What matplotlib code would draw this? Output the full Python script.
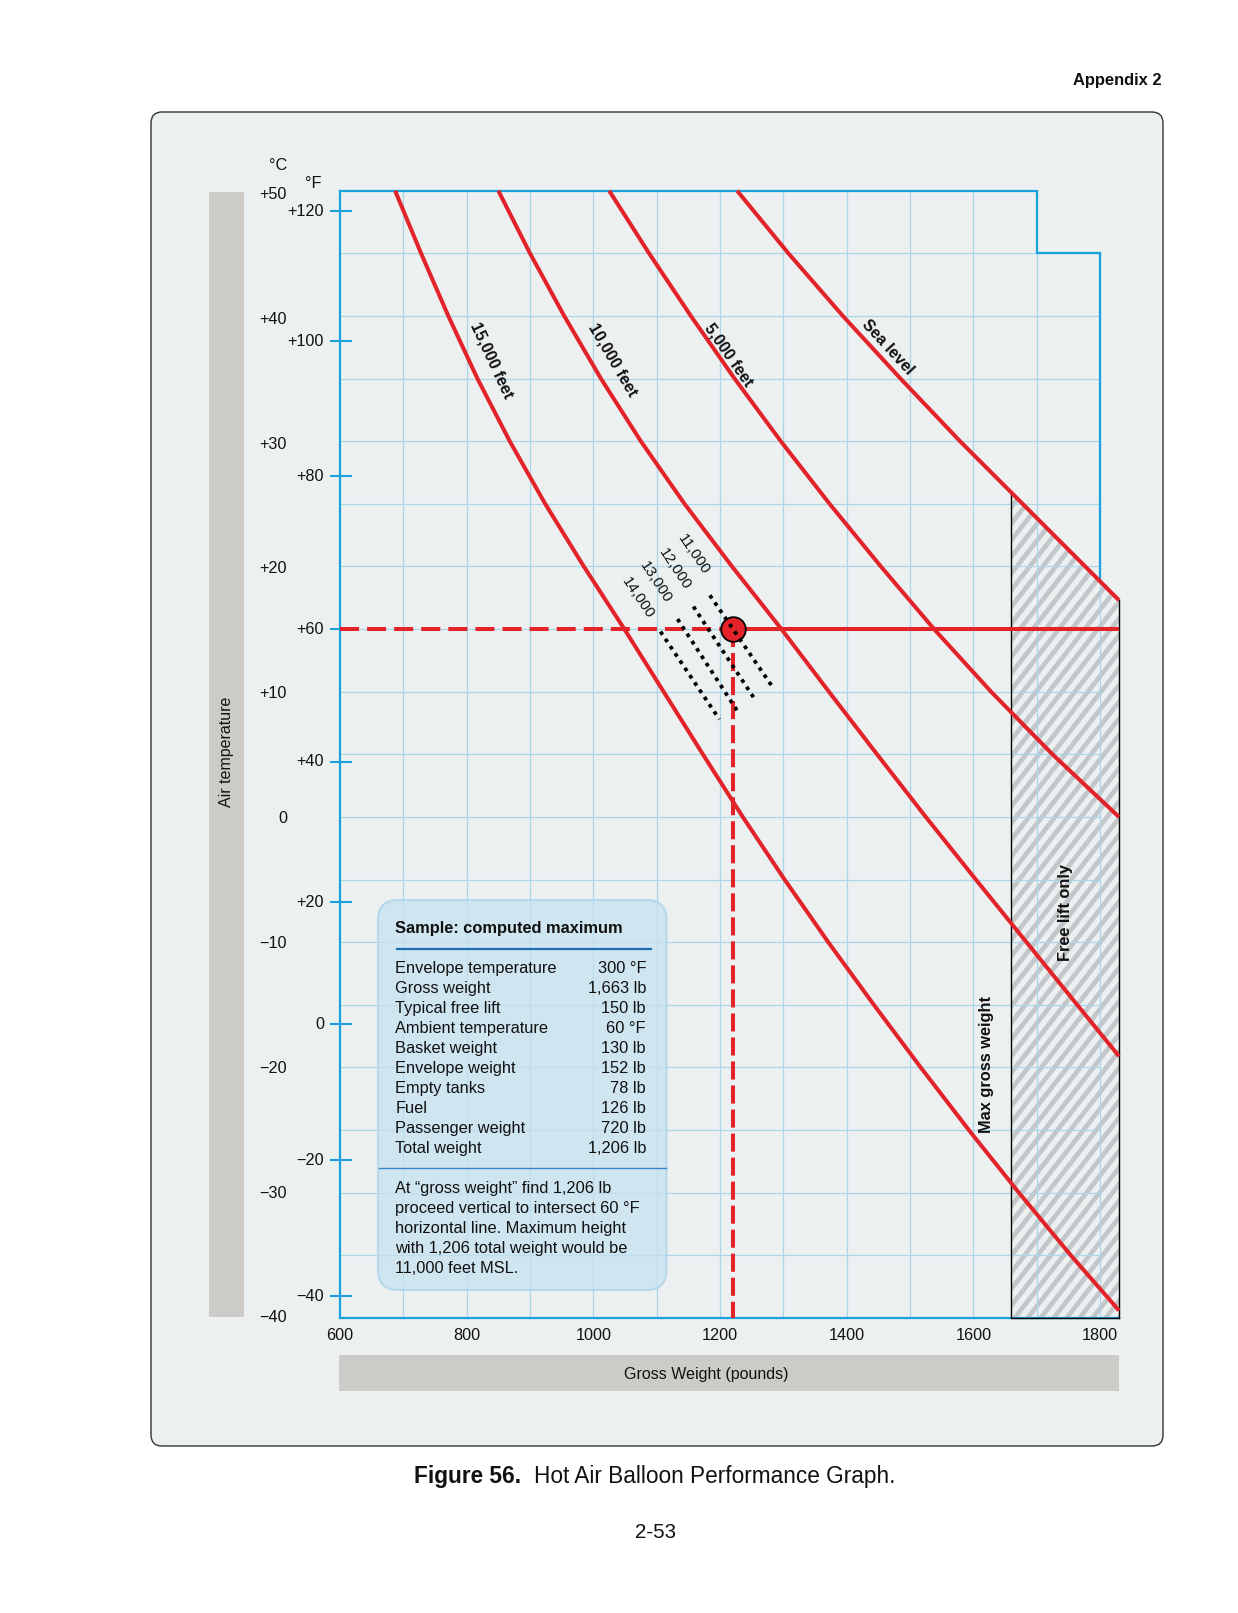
import numpy as np
import matplotlib
matplotlib.use('Agg')
import matplotlib.pyplot as plt
import matplotlib.transforms as mtransforms
from matplotlib.patches import FancyBboxPatch, Polygon
from matplotlib.collections import LineCollection
from matplotlib.lines import Line2D

plt.rcParams['font.family'] = ['Liberation Sans', 'DejaVu Sans']
plt.rcParams['lines.scale_dashes'] = False

# ------------------------------------------------------------------ data
weight_ticks = [600, 800, 1000, 1200, 1400, 1600, 1800]
celsius_ticks = [50, 40, 30, 20, 10, 0, -10, -20, -30, -40]
celsius_labels = ['+50', '+40', '+30', '+20', '+10', '0',
                  '\u221210', '\u221220', '\u221230', '\u221240']
# Fahrenheit scale as printed on the chart (value -> position on the °C axis)
fahrenheit_labels = ['+120', '+100', '+80', '+60', '+40', '+20', '0',
                     '\u221220', '\u221240']
fahrenheit_pos_c = [48.36, 38.0, 27.22, 15.0, 4.39, -6.79, -16.53, -27.41, -38.26]

# altitude curves: gross weight (lb) vs air temperature (°C)
alt15000_w = [687, 728, 771, 817, 868, 924, 985, 1049, 1111, 1173, 1236, 1302,
              1371, 1443, 1517, 1593, 1672, 1754, 1830]
alt15000_t = [50, 45, 40, 35, 30, 25, 20, 15, 10, 5, 0, -5,
              -10, -15, -20, -25, -30, -35, -39.4]
alt10000_w = [850, 900, 954, 1012, 1075, 1144, 1219, 1297, 1372, 1448, 1525,
              1604, 1684, 1764, 1830]
alt10000_t = [50, 45, 40, 35, 30, 25, 20, 15, 10, 5, 0,
              -5, -10, -15, -19.1]
alt5000_w = [1025, 1088, 1154, 1223, 1296, 1373, 1454, 1538, 1628, 1725, 1830]
alt5000_t = [50, 45, 40, 35, 30, 25, 20, 15, 10, 5, 0]
sea_w = [1227, 1308, 1394, 1485, 1579, 1660, 1830]
sea_t = [50, 45, 40, 35, 30, 25.9, 17.3]

curve_names = ['15,000 feet', '10,000 feet', '5,000 feet', 'Sea level']

# sample computation point
sample_weight = 1221
sample_temp = 15.0   # 60 °F

# dotted intermediate altitude lines
dotted_names = ['11,000', '12,000', '13,000', '14,000']
dotted_w0 = [1184, 1158, 1133, 1106]
dotted_t0 = [17.7, 16.8, 15.8, 14.8]
dotted_w1 = [1284, 1255, 1227, 1199]
dotted_t1 = [10.3, 9.4, 8.5, 7.8]

max_gross_weight = 1660
chart_right = 1830

box_title = 'Sample: computed maximum'
box_items = ['Envelope temperature', 'Gross weight', 'Typical free lift',
             'Ambient temperature', 'Basket weight', 'Envelope weight',
             'Empty tanks', 'Fuel', 'Passenger weight', 'Total weight']
box_values = ['300 \u00b0F', '1,663 lb', '150 lb', '60 \u00b0F', '130 lb',
              '152 lb', '78 lb', '126 lb', '720 lb', '1,206 lb']
box_note = ['At \u201cgross weight\u201d find 1,206 lb',
            'proceed vertical to intersect 60 \u00b0F',
            'horizontal line. Maximum height',
            'with 1,206 total weight would be',
            '11,000 feet MSL.']

# ------------------------------------------------------------------ style
RED = '#e2232a'
BLUE = '#1ba1db'
GRID = '#a9d6ea'
PANEL = '#edf0f1'
BAR = '#cccbc7'
TXT = '#111111'
FS = 11.7

W, H = 1238, 1613
fig = plt.figure(figsize=(W / 100, H / 100), dpi=100)
fig.patch.set_facecolor('white')


def fx(x):
    return x / W


def fy(y):
    return 1 - y / H


def inch_box(x0, y0, x1, y1, **kw):
    return FancyBboxPatch((x0 / 100, (H - y1) / 100), (x1 - x0) / 100, (y1 - y0) / 100,
                          transform=fig.dpi_scale_trans, **kw)


# panel
fig.add_artist(inch_box(151, 112, 1163, 1446,
                        boxstyle='round,pad=0,rounding_size=0.11',
                        facecolor=PANEL, edgecolor='#333333', linewidth=1.0, zorder=-10))
# grey label bars
fig.add_artist(inch_box(209, 192, 244, 1317, boxstyle='square,pad=0',
                        facecolor=BAR, edgecolor='none', zorder=-5))
fig.add_artist(inch_box(339, 1355, 1119, 1391, boxstyle='square,pad=0',
                        facecolor=BAR, edgecolor='none', zorder=-5))

# axes
ax = fig.add_axes([fx(340), fy(1318), (1119 - 340) / W, (1318 - 190.7) / H])
ax.set_xlim(600, chart_right)
ax.set_ylim(-40, 50)
ax.patch.set_visible(False)
for s in ['top', 'right']:
    ax.spines[s].set_visible(False)
for s in ['left', 'bottom']:
    ax.spines[s].set_color(BLUE)
    ax.spines[s].set_linewidth(1.6)
    ax.spines[s].set_zorder(3)
ax.set_xticks(weight_ticks)
ax.set_xticklabels([str(v) for v in weight_ticks])
ax.tick_params(axis='x', length=0, pad=7, labelsize=FS, labelcolor=TXT)
ax.set_yticks([])

# grid
grid_w = np.arange(700, 1801, 100)
grid_top = np.where(grid_w >= 1800, 45, 50)
ax.vlines(grid_w, -40, grid_top, colors=GRID, linewidth=0.9, zorder=1)
ax.hlines(np.arange(-35, 46, 5), 600, 1800, colors=GRID, linewidth=0.9, zorder=1)

# outer frame with step
y_at_1800 = np.interp(1800, sea_w, sea_t)
ax.plot([600, 1700, 1700, 1800, 1800], [50, 50, 45, 45, y_at_1800],
        color=BLUE, lw=1.6, zorder=3, clip_on=False, solid_joinstyle='miter')

# hatched "free lift only" region
verts = [(max_gross_weight, -40), (sea_w[-2], sea_t[-2]), (sea_w[-1], sea_t[-1]),
         (chart_right, -40)]
poly = Polygon(verts, closed=True, facecolor='none', edgecolor='none', zorder=0.5)
ax.add_patch(poly)
disp = ax.transData.transform(verts)
xmin, xmax = disp[:, 0].min(), disp[:, 0].max()
ymin, ymax = disp[:, 1].min(), disp[:, 1].max()
ang = np.radians(52)
run = (ymax - ymin + 20) / np.tan(ang)
segs = [[(c, ymin - 10), (c + run, ymax + 10)]
        for c in np.arange(xmin - run - 20, xmax + 20, 13)]
lc = LineCollection(segs, transform=mtransforms.IdentityTransform(),
                    colors='#c4c7c9', linewidths=3.4, zorder=0.6)
lc.set_clip_path(poly)
ax.add_collection(lc)
ax.plot([max_gross_weight, max_gross_weight], [-40, sea_t[-2]], color='black', lw=1.0, zorder=4)
ax.plot([chart_right, chart_right], [-40, sea_t[-1]], color='black', lw=1.0, zorder=4, clip_on=False)
ax.plot([max_gross_weight, chart_right], [-40, -40], color='black', lw=1.0, zorder=4, clip_on=False)

# altitude curves
curves = [(alt15000_w, alt15000_t), (alt10000_w, alt10000_t),
          (alt5000_w, alt5000_t), (sea_w, sea_t)]
for w, t in curves:
    ax.plot(w, t, color=RED, lw=2.9, zorder=5, clip_on=False,
            solid_capstyle='butt', solid_joinstyle='round')

# curve labels
label_pos = [(839.5, 36.5, 2), (1031, 36.5, 2), (1214, 36.9, 2), (1465, 37.5, 2)]
for name, (lw_, lt_, i), (w, t) in zip(curve_names, label_pos, curves):
    p = ax.transData.transform([(w[i], t[i]), (w[i + 1], t[i + 1])])
    rot = np.degrees(np.arctan2(p[1, 1] - p[0, 1], p[1, 0] - p[0, 0]))
    ax.text(lw_, lt_, name, rotation=rot, rotation_mode='anchor', ha='center',
            va='center', fontsize=11.5, fontweight='bold', color=TXT, zorder=9)

# sample lines
ax.plot([600, sample_weight], [sample_temp, sample_temp], color=RED, lw=2.9,
        dashes=(13.7, 5.8), dash_capstyle='butt', zorder=6)
ax.plot([sample_weight, chart_right], [sample_temp, sample_temp], color=RED, lw=2.9,
        solid_capstyle='butt', zorder=6, clip_on=False)
ax.plot([sample_weight, sample_weight], [sample_temp, -40], color=RED, lw=2.9,
        dashes=(13.0, 4.3), dash_capstyle='butt', zorder=6)
ax.plot([sample_weight], [sample_temp], 'o', ms=17.7, mfc=RED, mec='black',
        mew=1.3, zorder=7)

# dotted intermediate lines
dotted_label_pos = [(1158, 21.0), (1129, 19.8), (1099, 18.7), (1071, 17.5)]
for name, a0, b0, a1, b1, (lx, ly) in zip(dotted_names, dotted_w0, dotted_t0,
                                          dotted_w1, dotted_t1, dotted_label_pos):
    ax.plot([a0, a1], [b0, b1], color='black', lw=2.7, dashes=(2.7, 3.6),
            dash_capstyle='butt', zorder=8)
    p = ax.transData.transform([(a0, b0), (a1, b1)])
    rot = np.degrees(np.arctan2(p[1, 1] - p[0, 1], p[1, 0] - p[0, 0]))
    ax.text(lx, ly, name, rotation=rot, rotation_mode='anchor', ha='center',
            va='center', fontsize=11, color=TXT, zorder=9)

# region labels
ax.text(1620, -19.8, 'Max gross weight', rotation=90, ha='center', va='center',
        fontsize=11.8, fontweight='bold', color=TXT, zorder=9)
ax.text(1745, -7.6, 'Free lift only', rotation=90, ha='center', va='center',
        fontsize=11.8, fontweight='bold', color=TXT, zorder=9)

# y scales
blend = mtransforms.blended_transform_factory(fig.transFigure, ax.transData)
for v, lab in zip(celsius_ticks, celsius_labels):
    ax.text(fx(287), v - 0.3 * (v + 40) / 90 * 1.0, lab, transform=blend, ha='right',
            va='center', fontsize=FS, color=TXT, clip_on=False)
for p, lab in zip(fahrenheit_pos_c, fahrenheit_labels):
    ax.text(fx(324), p, lab, transform=blend, ha='right', va='center',
            fontsize=FS, color=TXT, clip_on=False)
    ax.plot([fx(331), fx(351)], [p, p], transform=blend, color=BLUE, lw=1.5,
            clip_on=False, zorder=3)
fig.text(fx(287), fy(165), '\u00b0C', ha='right', va='center', fontsize=FS, color=TXT)
fig.text(fx(321), fy(183), '\u00b0F', ha='right', va='center', fontsize=FS, color=TXT)

fig.text(fx(226.5), fy(751.5), 'Air temperature', rotation=90, ha='center',
         va='center', fontsize=11.5, color=TXT)
fig.text(fx(706), fy(1374), 'Gross Weight (pounds)', ha='center', va='center',
         fontsize=11.5, color=TXT)

# sample box
fig.add_artist(inch_box(378, 900, 666.5, 1290,
                        boxstyle='round,pad=0,rounding_size=0.2',
                        facecolor='#c6e2f0', alpha=0.75, edgecolor='#a9d2e8',
                        linewidth=1.5, zorder=2))
fig.text(fx(395.4), fy(928), box_title, ha='left', va='center', fontsize=11.8,
         fontweight='bold', color=TXT, zorder=3)
fig.add_artist(Line2D([fx(397), fx(651)], [fy(948.6), fy(948.6)], color='#1f6db3',
                      lw=1.6, zorder=3))
for i, (item, val) in enumerate(zip(box_items, box_values)):
    yy = 968.2 + 20 * i
    fig.text(fx(395.4), fy(yy), item, ha='left', va='center', fontsize=11.8,
             color=TXT, zorder=3)
    fig.text(fx(646), fy(yy), val, ha='right', va='center', fontsize=11.8,
             color=TXT, zorder=3)
fig.add_artist(Line2D([fx(379), fx(666)], [fy(1168.2), fy(1168.2)], color='#3b86c4',
                      lw=1.0, zorder=3))
for i, line in enumerate(box_note):
    fig.text(fx(395.4), fy(1188.2 + 20 * i), line, ha='left', va='center',
             fontsize=11.8, color=TXT, zorder=3)

# page texts
fig.text(fx(1162), fy(81), 'Appendix 2', ha='right', va='center', fontsize=11.9,
         fontweight='bold', color=TXT)
fig.text(fx(414), fy(1476), 'Figure 56.', ha='left', va='center', fontsize=16.3,
         fontweight='bold', color=TXT)
fig.text(fx(534), fy(1476), 'Hot Air Balloon Performance Graph.', ha='left',
         va='center', fontsize=16.3, color=TXT)
fig.text(fx(655), fy(1532), '2-53', ha='center', va='center', fontsize=14.8, color=TXT)

fig.savefig('out.png', dpi=100, facecolor='white')
